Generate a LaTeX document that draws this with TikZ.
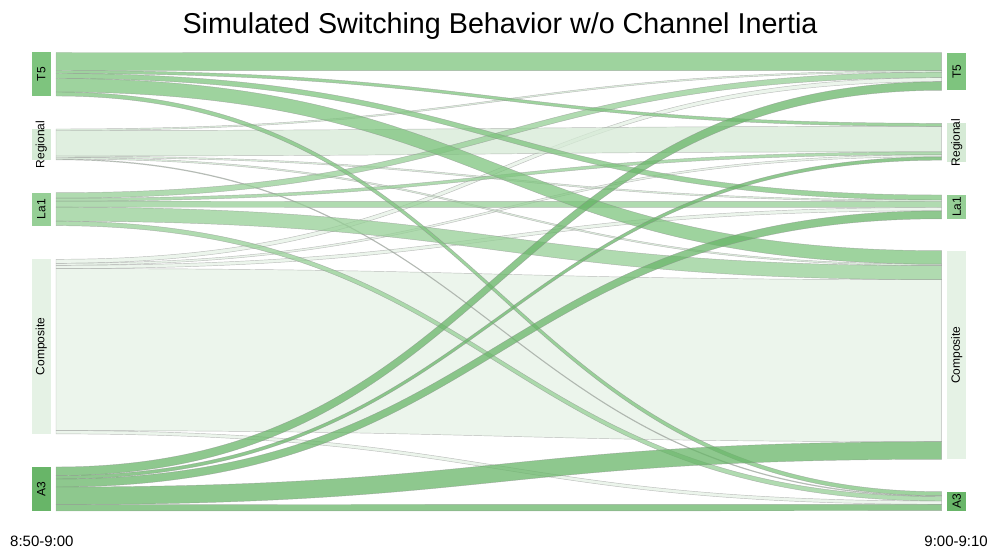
\documentclass[tikz,border=0pt]{standalone}
\usepackage{fontspec}
\setmainfont{Liberation Sans}
\usetikzlibrary{calc}
\definecolor{cT5}{RGB}{126,196,126}
\definecolor{cA3}{RGB}{104,181,104}
\definecolor{cLa}{RGB}{150,207,150}
\definecolor{cReg}{RGB}{213,234,213}
\definecolor{cComp}{RGB}{229,242,229}
\newcommand{\sklink}[6]{%
  \path[band, fill=#6]
    let \p1=($(#1.north east)+(5.3,#2)$),
        \p2=($(#3.north west)+(-5.6,#4)$),
        \p3=($(\p1)!0.5!(\p2)$),
        \p4=($(\p1)+(0,#5)$),
        \p5=($(\p2)+(0,#5)$) in
    (\p1) .. controls (\x3,\y1) and (\x3,\y2) .. (\p2)
    -- (\p5) .. controls (\x3,\y5) and (\x3,\y4) .. (\p4) -- cycle;}
\begin{document}
\begin{tikzpicture}[x=1pt,y=-1pt,
  nd/.style={rectangle, inner sep=0pt, outer sep=0pt, minimum width=19pt, anchor=north west, draw=none},
  lbl/.style={inner sep=0pt, font=\fontsize{12}{14}\selectfont, text=black},
  band/.style={draw=black!45, draw opacity=0.55, line width=0.45pt, fill opacity=0.75}]
\useasboundingbox (0,0) rectangle (989,553);
% title and axis labels
\node[anchor=base, inner sep=0pt, font=\fontsize{28.7}{32}\selectfont] (title) at (500,34) {Simulated Switching Behavior w/o Channel Inertia};
\node[anchor=base west, inner sep=0pt, font=\fontsize{15}{17}\selectfont] (tleft) at (10,546.5) {8:50-9:00};
\node[anchor=base east, inner sep=0pt, font=\fontsize{15}{17}\selectfont] (tright) at (988,546.5) {9:00-9:10};
% left nodes
\node[nd, fill=cT5, minimum height=43.5pt] (T5L) at (31.7,52.5) {};
\node[nd, fill=cReg, minimum height=30.8pt] (RegL) at (31.7,129) {};
\node[nd, fill=cLa, minimum height=33pt] (La1L) at (31.7,192.7) {};
\node[nd, fill=cComp, minimum height=174.6pt] (CompL) at (31.7,259.3) {};
\node[nd, fill=cA3, minimum height=44pt] (A3L) at (31.7,467) {};
% right nodes
\node[nd, fill=cT5, minimum height=37.6pt] (T5R) at (947.3,52.7) {};
\node[nd, fill=cReg, minimum height=38.5pt] (RegR) at (947.3,123.3) {};
\node[nd, fill=cLa, minimum height=23.8pt] (La1R) at (947.3,195) {};
\node[nd, fill=cComp, minimum height=208.6pt] (CompR) at (947.3,250.7) {};
\node[nd, fill=cA3, minimum height=19pt] (A3R) at (947.3,491.7) {};
% links from Composite
\sklink{CompL}{0}{T5R}{25}{4}{cComp}
\sklink{CompL}{4}{RegR}{31.5}{2}{cComp}
\sklink{CompL}{6}{La1R}{12.5}{3.3}{cComp}
\sklink{CompL}{9.3}{CompR}{29}{162}{cComp}
\sklink{CompL}{171.3}{A3R}{9.3}{3.3}{cComp}
% links from Regional
\sklink{RegL}{0}{T5R}{18}{1.5}{cReg}
\sklink{RegL}{1.5}{RegR}{3}{25.5}{cReg}
\sklink{RegL}{27}{La1R}{5}{1.5}{cReg}
\sklink{RegL}{28.5}{CompR}{13.5}{1.5}{cReg}
\sklink{RegL}{30}{A3R}{4}{0.8}{cReg}
% links from La1
\sklink{La1L}{0}{T5R}{19.5}{5.5}{cLa}
\sklink{La1L}{5.5}{RegR}{28.5}{3}{cLa}
\sklink{La1L}{8.5}{La1R}{6.5}{6}{cLa}
\sklink{La1L}{14.5}{CompR}{15}{14}{cLa}
\sklink{La1L}{28.5}{A3R}{4.8}{4.5}{cLa}
% links from T5
\sklink{T5L}{0}{T5R}{0}{18}{cT5}
\sklink{T5L}{18}{RegR}{0}{3}{cT5}
\sklink{T5L}{21}{La1R}{0}{5}{cT5}
\sklink{T5L}{26}{CompR}{0}{13.5}{cT5}
\sklink{T5L}{39.5}{A3R}{0}{4}{cT5}
% links from A3
\sklink{A3L}{0}{T5R}{29}{8.6}{cA3}
\sklink{A3L}{8.6}{RegR}{33.5}{3.4}{cA3}
\sklink{A3L}{12}{La1R}{15.8}{8}{cA3}
\sklink{A3L}{20}{CompR}{191}{17.6}{cA3}
\sklink{A3L}{37.6}{A3R}{12.6}{6.4}{cA3}
% node labels
\node[lbl, rotate=90] (T5Lt) at (T5L.center) {T5};
\node[lbl, rotate=90] (RegLt) at (RegL.center) {Regional};
\node[lbl, rotate=90] (La1Lt) at (La1L.center) {La1};
\node[lbl, rotate=90] (CompLt) at (CompL.center) {Composite};
\node[lbl, rotate=90] (A3Lt) at (A3L.center) {A3};
\node[lbl, rotate=90] (T5Rt) at (T5R.center) {T5};
\node[lbl, rotate=90] (RegRt) at (RegR.center) {Regional};
\node[lbl, rotate=90] (La1Rt) at (La1R.center) {La1};
\node[lbl, rotate=90] (CompRt) at (CompR.center) {Composite};
\node[lbl, rotate=90] (A3Rt) at (A3R.center) {A3};
\end{tikzpicture}
\end{document}
